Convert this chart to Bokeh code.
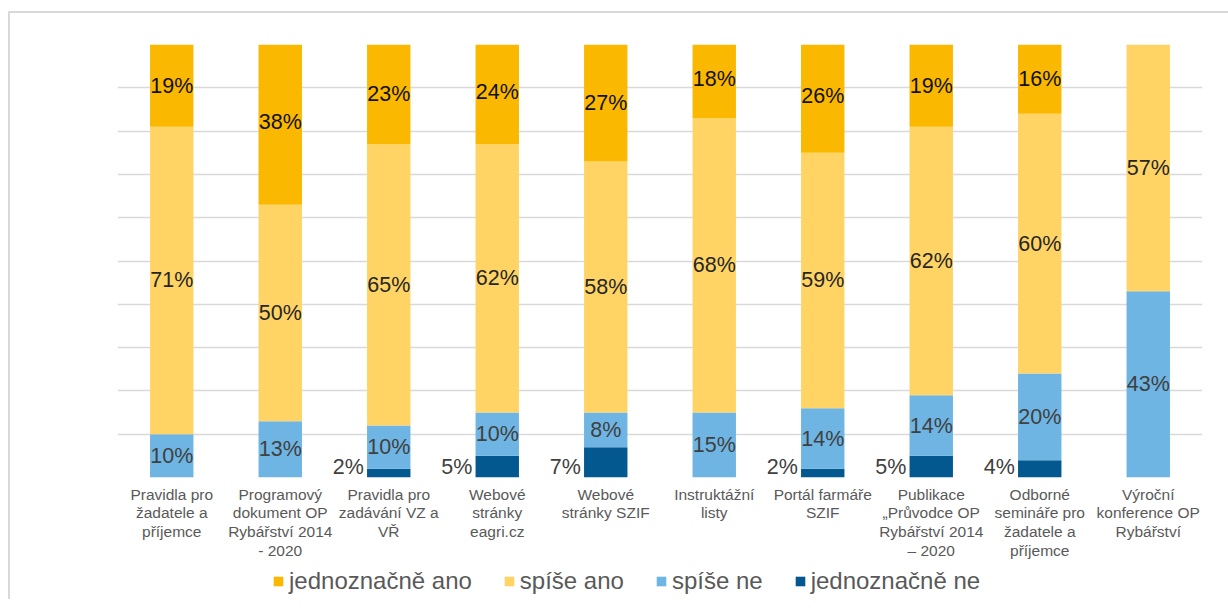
from bokeh.plotting import figure
from bokeh.layouts import column
from bokeh.models import ColumnDataSource, FactorRange, FixedTicker, Legend, LegendItem, Range1d
from bokeh.core.properties import value
from bokeh.embed import file_html
from bokeh.resources import INLINE

categories = [
    "Pravidla pro\nžadatele a\npříjemce",
    "Programový\ndokument OP\nRybářství 2014\n- 2020",
    "Pravidla pro\nzadávání VZ a\nVŘ",
    "Webové\nstránky\neagri.cz",
    "Webové\nstránky SZIF",
    "Instruktážní\nlisty",
    "Portál farmáře\nSZIF",
    "Publikace\n„Průvodce OP\nRybářství 2014\n– 2020",
    "Odborné\nsemináře pro\nžadatele a\npříjemce",
    "Výroční\nkonference OP\nRybářství",
]
jednoznacne_ne = [0, 0, 2, 5, 7, 0, 2, 5, 4, 0]
spise_ne = [10, 13, 10, 10, 8, 15, 14, 14, 20, 43]
spise_ano = [71, 50, 65, 62, 58, 68, 59, 62, 60, 57]
jednoznacne_ano = [19, 38, 23, 24, 27, 18, 26, 19, 16, 0]

series_keys = ["jn", "sn", "sa", "ja"]
series_names = ["jednoznačně ne", "spíše ne", "spíše ano", "jednoznačně ano"]
colors = ["#03598F", "#6FB5E3", "#FFD464", "#FBB800"]
label_colors = ["#404040", "#404040", "#262626", "#111111"]

FONT = "Liberation Sans"

data = dict(cat=categories, jn=jednoznacne_ne, sn=spise_ne, sa=spise_ano, ja=jednoznacne_ano)
source = ColumnDataSource(data)

p = figure(
    x_range=FactorRange(*categories, range_padding=0, factor_padding=0),
    y_range=Range1d(0, 100),
    width=1218, height=550,
    output_backend="svg", toolbar_location=None,
    min_border_left=107, min_border_right=26, min_border_top=31, min_border_bottom=86,
    background_fill_color="white", border_fill_color="white",
)
p.outline_line_color = None

renderers = p.vbar_stack(series_keys, x="cat", width=0.4, source=source,
                         color=colors, line_color=None)

# data labels
cum = [0] * len(categories)
for si, key in enumerate(series_keys):
    vals = data[key]
    xs, ys, txt = [], [], []
    for i, v in enumerate(vals):
        if v > 0:
            xs.append(categories[i])
            ys.append(cum[i] + v / 2 if si > 0 else 0)
            txt.append(f"{v}%")
        cum[i] += v
    src = ColumnDataSource(dict(x=xs, y=ys, t=txt))
    if si == 0:
        p.text(x="x", y="y", text="t", source=src, text_align="right", text_baseline="bottom",
               x_offset=-25, y_offset=1, text_font=value(FONT), text_font_size="21.5px",
               text_color=label_colors[si])
    else:
        p.text(x="x", y="y", text="t", source=src, text_align="center", text_baseline="middle",
               text_font=value(FONT), text_font_size="21.5px", text_color=label_colors[si])

p.yaxis.visible = False
p.xgrid.grid_line_color = None
p.ygrid.ticker = FixedTicker(ticks=list(range(0, 101, 10)))
p.ygrid.grid_line_color = "#D9D9D9"
p.ygrid.grid_line_width = 1.5

ax = p.xaxis[0]
ax.axis_line_color = None
ax.major_tick_line_color = None
ax.minor_tick_line_color = None
ax.major_label_text_font = FONT
ax.major_label_text_font_size = "15.5px"
ax.major_label_text_color = "#595959"
ax.major_label_text_line_height = 1.1
ax.major_label_standoff = 2
ax.major_label_orientation = "horizontal"

# legend strip
lf = figure(width=1218, height=36, output_backend="svg", toolbar_location=None,
            x_range=Range1d(0, 1), y_range=Range1d(0, 1),
            x_axis_location=None, y_axis_location=None,
            min_border_left=0, min_border_right=0, min_border_top=0, min_border_bottom=0,
            background_fill_color="white", border_fill_color="white")
lf.outline_line_color = None
lf.grid.visible = False
lrs = [lf.vbar(x=[-5], top=[-5], bottom=[-6], width=0.1, color=c, line_color=None) for c in colors]
items = [LegendItem(label=series_names[i], renderers=[lrs[i]]) for i in [3, 2, 1, 0]]
legend = Legend(items=items, orientation="horizontal", location=(155, 4),
                label_text_font=FONT, label_text_font_size="24px", label_text_color="#595959",
                glyph_width=12, glyph_height=12, label_standoff=5, spacing=31,
                padding=0, margin=0, border_line_color=None, background_fill_alpha=0)
lf.add_layout(legend, "center")

layout = column(p, lf, spacing=0,
                styles={"margin-left": "8px", "margin-top": "11px",
                        "border-top": "2px solid #D9D9D9", "border-left": "2px solid #D9D9D9"})

open("out.html", "w").write(file_html(layout, INLINE))
